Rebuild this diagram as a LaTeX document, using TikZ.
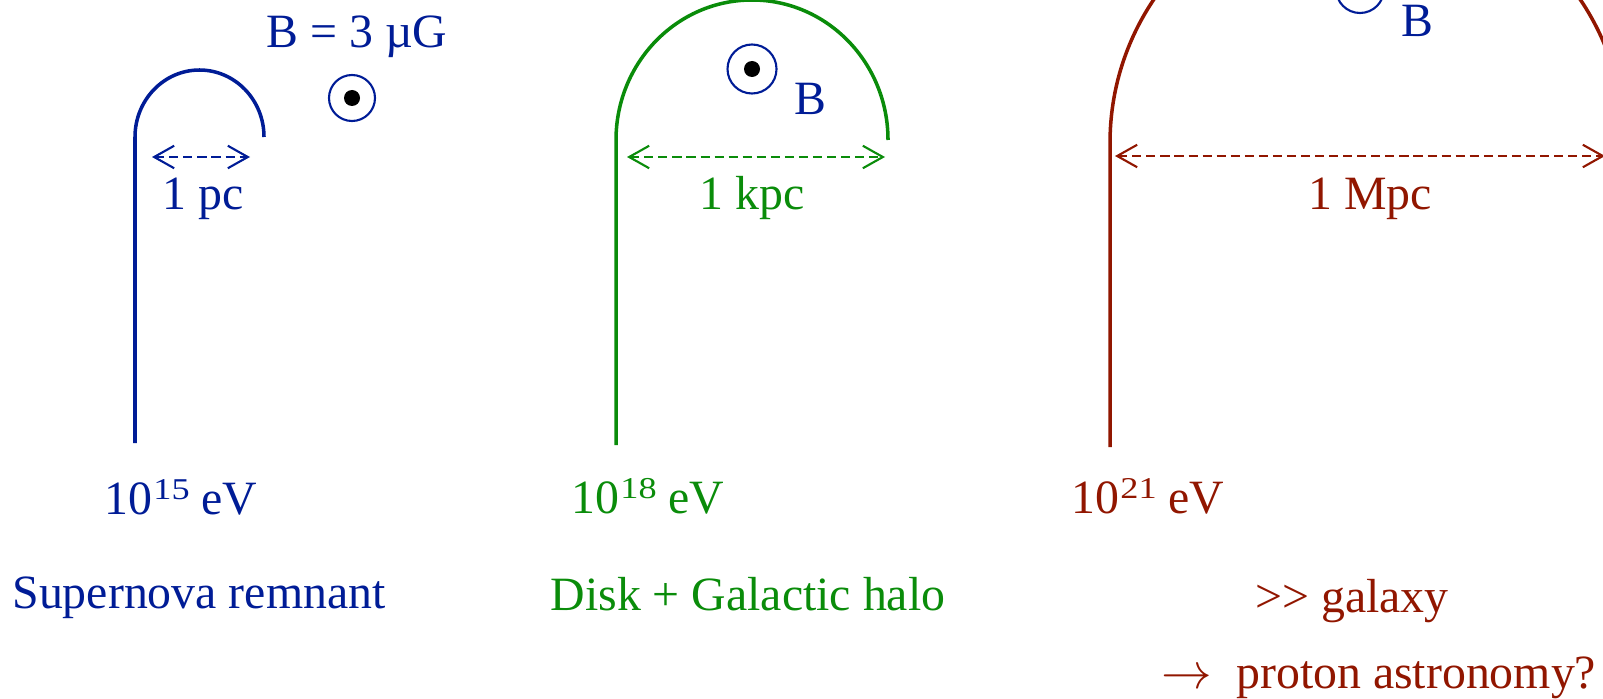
\documentclass[tikz,border=0pt]{standalone}
\usepackage{graphicx}
\usepackage{fontspec}
\setmainfont{Liberation Serif}
\usetikzlibrary{arrows.meta}
\definecolor{snblue}{RGB}{0,28,150}
\definecolor{halogreen}{RGB}{10,140,10}
\definecolor{mpcred}{RGB}{145,22,0}
\newcommand{\tenpow}[1]{10\kern0.3pt\raisebox{4.2pt}{\scalebox{1.2}[1]{\fontsize{8.6}{10}\selectfont #1}}}

\begin{document}
\begin{tikzpicture}[
		orbit/.style={line width=1pt},
		span/.style={line width=0.6pt, dash pattern=on 2.6pt off 1.4pt,
			{Straight Barb[length=5.7pt,width=6.4pt]}-{Straight Barb[length=5.7pt,width=6.4pt]}},
		lbl/.style={font=\fontsize{13.6}{16}\selectfont, inner sep=0pt, anchor=base},
		bfield/.style={circle, draw=snblue, line width=0.6pt, inner sep=0pt, minimum size=#1}
	]
	\path[use as bounding box, clip] (0,0) rectangle (16.03,6.98);
	
	% ---------- Supernova remnant ----------
	\begin{scope}[snblue]
		\coordinate (snfoot) at (1.35,2.55);
		\coordinate (sntop) at (1.35,5.61);
		\draw[orbit] (snfoot) -- (sntop)
			arc[start angle=180, end angle=0, x radius=0.645, y radius=0.67];
		
		\coordinate (snl) at (1.52,5.41);
		\coordinate (snr) at (2.50,5.41);
		\draw[span] (snl) -- (snr);
		\node[lbl] (snsize) at (2.03,4.88) {1 pc};
		
		\node[bfield=0.46cm] (bsn) at (3.52,6.00) {};
		\fill[black] (bsn.center) circle (0.08);
		\node[lbl] (bval) at (3.57,6.50) {B = 3 µG};
		
		\node[lbl] (snenergy) at (1.81,1.84) {\tenpow{15} eV};
		\node[lbl] (snname) at (1.99,0.90) {Supernova remnant};
	\end{scope}
	
	% ---------- Disk + halo ----------
	\begin{scope}[halogreen]
		\coordinate (halofoot) at (6.16,2.53);
		\coordinate (halotop) at (6.16,5.58);
		\draw[orbit] (halofoot) -- (halotop)
			arc[start angle=180, end angle=0, x radius=1.36, y radius=1.40];
		
		\coordinate (halol) at (6.27,5.41);
		\coordinate (halor) at (8.85,5.41);
		\draw[span] (halol) -- (halor);
		\node[lbl] (halosize) at (7.52,4.88) {1 kpc};
		
		\node[bfield=0.49cm] (bhalo) at (7.52,6.29) {};
		\fill[black] (bhalo.center) circle (0.08);
		\node[lbl, snblue] (bhalolbl) at (8.10,5.83) {B};
		
		\node[lbl] (haloenergy) at (6.48,1.85) {\tenpow{18} eV};
		\node[lbl] (haloname) at (7.48,0.88) {Disk + Galactic halo};
	\end{scope}
	
	% ---------- beyond the galaxy ----------
	\begin{scope}[mpcred]
		\coordinate (mpcfoot) at (11.10,2.51);
		\coordinate (mpctop) at (11.10,5.55);
		\draw[orbit] (mpcfoot) -- (mpctop)
			arc[start angle=180, end angle=0, radius=2.57];
		
		\coordinate (mpcl) at (11.15,5.42);
		\coordinate (mpcr) at (16.05,5.42);
		\draw[span] (mpcl) -- (mpcr);
		\node[lbl] (mpcsize) at (13.70,4.88) {1 Mpc};
		
		\node[bfield=0.48cm] (bmpc) at (13.60,7.09) {};
		\fill[black] (bmpc.center) circle (0.08);
		\node[lbl, snblue] (bmpclbl) at (14.17,6.61) {B};
		
		\node[lbl] (mpcenergy) at (11.48,1.85) {\tenpow{21} eV};
		\node[lbl] (mpcname) at (13.52,0.86) {\mbox{>}\mbox{>} galaxy};
		\node[lbl] (mpcnote) at (13.79,0.10) {$\rightarrow$~~proton astronomy?};
	\end{scope}
	
\end{tikzpicture}
\end{document}
